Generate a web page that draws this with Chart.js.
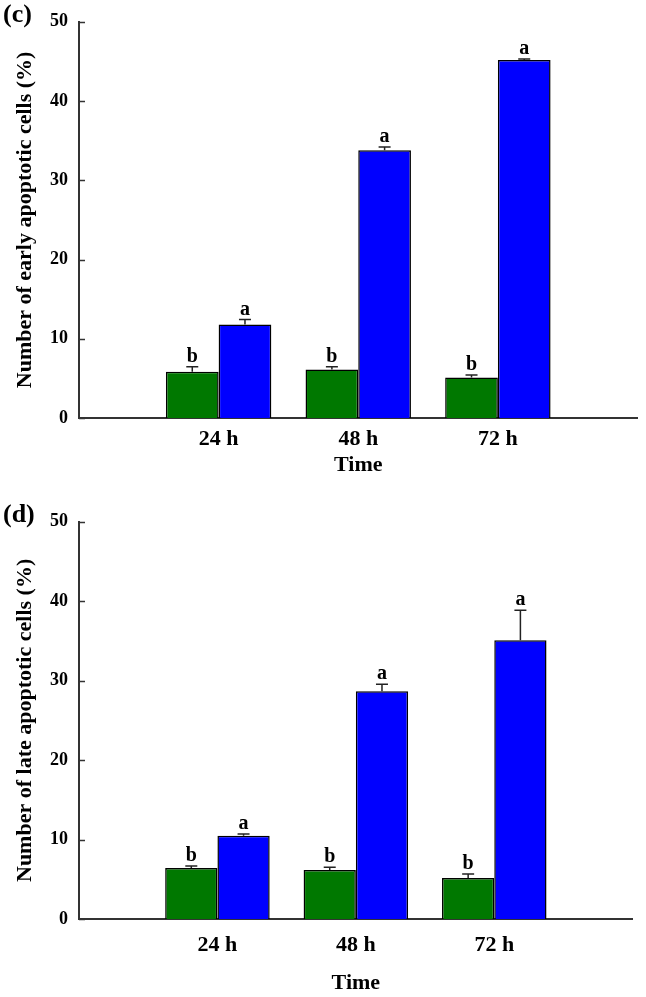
<!DOCTYPE html>
<html>
<head>
<meta charset="utf-8">
<script src="https://cdn.jsdelivr.net/npm/chart.js@4"></script>
<style>
  html, body { margin: 0; padding: 0; background: #fff; }
  #wrap { position: relative; width: 646px; height: 997px; }
  canvas { position: absolute; left: 0; }
</style>
</head>
<body>
<div id="wrap">
  <canvas id="c1" width="646" height="500" style="top:0px"></canvas>
  <canvas id="c2" width="646" height="497" style="top:500px"></canvas>
</div>
<script>
// ---- data ----
const timeLabels = ['24 h', '48 h', '72 h'];
const yTicks = [0, 10, 20, 30, 40, 50];

// panel (c): early apoptotic cells (%)
const earlyGreen = [5.83, 6.13, 5.12];
const earlyGreenErr = [0.63, 0.33, 0.32];
const earlyBlue = [11.8, 33.8, 45.17];
const earlyBlueErr = [0.63, 0.4, 0.15];
const earlyLettersGreen = ['b', 'b', 'b'];
const earlyLettersBlue = ['a', 'a', 'a'];

// panel (d): late apoptotic cells (%)
const lateGreen = [6.42, 6.16, 5.16];
const lateGreenErr = [0.25, 0.34, 0.5];
const lateBlue = [10.48, 28.68, 35.1];
const lateBlueErr = [0.21, 0.88, 3.77];
const lateLettersGreen = ['b', 'b', 'b'];
const lateLettersBlue = ['a', 'a', 'a'];

const GREEN = '#007800';
const BLUE = '#0000ff';
const FONT = "'Liberation Serif', 'Times New Roman', serif";

function pad(arr) { return [null, ...arr, null]; }

const overlay = {
  id: 'overlay',
  afterDatasetsDraw(chart, args, opts) {
    const ctx = chart.ctx;
    const y = chart.scales.y;
    const area = chart.chartArea;
    ctx.save();
    // inward tick marks on y axis
    ctx.strokeStyle = '#333';
    ctx.lineWidth = 1.5;
    y.ticks.forEach(t => {
      const py = Math.round(y.getPixelForValue(t.value)) + 0.5;
      ctx.beginPath();
      ctx.moveTo(area.left, py);
      ctx.lineTo(area.left + 6, py);
      ctx.stroke();
    });
    // error bars + letters
    chart.data.datasets.forEach((ds, di) => {
      const meta = chart.getDatasetMeta(di);
      meta.data.forEach((bar, i) => {
        const v = ds.data[i];
        if (v === null || v === undefined) return;
        const k = i - 1;
        const e = ds.errs[k];
        const yTop = y.getPixelForValue(v);
        const yErr = y.getPixelForValue(v + e);
        ctx.strokeStyle = '#222';
        ctx.lineWidth = 1.5;
        ctx.beginPath();
        ctx.moveTo(bar.x, yTop);
        ctx.lineTo(bar.x, yErr);
        ctx.moveTo(bar.x - 6, yErr);
        ctx.lineTo(bar.x + 6, yErr);
        ctx.stroke();
        ctx.fillStyle = '#000';
        ctx.font = "bold 20px " + FONT;
        ctx.textAlign = 'center';
        ctx.textBaseline = 'alphabetic';
        ctx.fillText(ds.letters[k], bar.x, yErr - 5);
      });
    });
    // panel label
    ctx.fillStyle = '#000';
    ctx.font = "bold 26px " + FONT;
    ctx.textAlign = 'left';
    ctx.textBaseline = 'middle';
    ctx.fillText(opts.panel, 3, 15);
    ctx.restore();
  }
};

function makeChart(id, cfg) {
  const labels = ['', ...timeLabels, ''];
  return new Chart(document.getElementById(id), {
    type: 'bar',
    data: {
      labels: labels,
      datasets: [
        { label: 'Control', data: pad(cfg.green), errs: cfg.greenErr, letters: cfg.greenLetters,
          backgroundColor: GREEN, borderColor: '#000', borderWidth: 1.5 },
        { label: 'Treated', data: pad(cfg.blue), errs: cfg.blueErr, letters: cfg.blueLetters,
          backgroundColor: BLUE, borderColor: '#000', borderWidth: 1.5 }
      ]
    },
    options: {
      responsive: false,
      animation: false,
      devicePixelRatio: 1,
      categoryPercentage: 0.755,
      barPercentage: 1.0,
      layout: { padding: { top: cfg.padTop, right: 0, bottom: cfg.padBottom, left: 0 } },
      plugins: {
        legend: { display: false },
        tooltip: { enabled: false },
        overlay: { panel: cfg.panel }
      },
      scales: {
        x: {
          type: 'category',
          offset: false,
          grid: { display: false, drawTicks: false },
          border: { display: true, color: '#333', width: 2 },
          ticks: { color: '#000', padding: cfg.xTickPad, font: { family: FONT, size: 22, weight: 'bold' },
                   autoSkip: false, maxRotation: 0 },
          title: { display: true, text: 'Time', color: '#000', padding: { top: 0, bottom: 0 },
                   font: { family: FONT, size: 22, weight: 'bold' } },
          afterFit(scale) { scale.height = cfg.xHeight; }
        },
        y: {
          min: 0, max: 50,
          afterBuildTicks(scale) { scale.ticks = yTicks.map(v => ({ value: v })); },
          grid: { display: false, drawTicks: false },
          border: { display: true, color: '#333', width: 2 },
          ticks: { color: '#000', padding: 11, font: { family: FONT, size: 18, weight: 'bold' } },
          title: { display: true, text: cfg.yTitle, color: '#000', padding: { top: 12, bottom: 0 },
                   font: { family: FONT, size: 22, weight: 'bold' } },
          afterFit(scale) { scale.width = 79; }
        }
      }
    },
    plugins: [overlay]
  });
}

makeChart('c1', {
  panel: '(c)', yTitle: 'Number of early apoptotic cells (%)',
  green: earlyGreen, greenErr: earlyGreenErr, greenLetters: earlyLettersGreen,
  blue: earlyBlue, blueErr: earlyBlueErr, blueLetters: earlyLettersBlue,
  padTop: 21.5, padBottom: 21.8, xHeight: 60.2, xTickPad: 8.5
});
makeChart('c2', {
  panel: '(d)', yTitle: 'Number of late apoptotic cells (%)',
  green: lateGreen, greenErr: lateGreenErr, greenLetters: lateLettersGreen,
  blue: lateBlue, blueErr: lateBlueErr, blueLetters: lateLettersBlue,
  padTop: 21.7, padBottom: 0, xHeight: 78, xTickPad: 13.3
});
</script>
</body>
</html>
